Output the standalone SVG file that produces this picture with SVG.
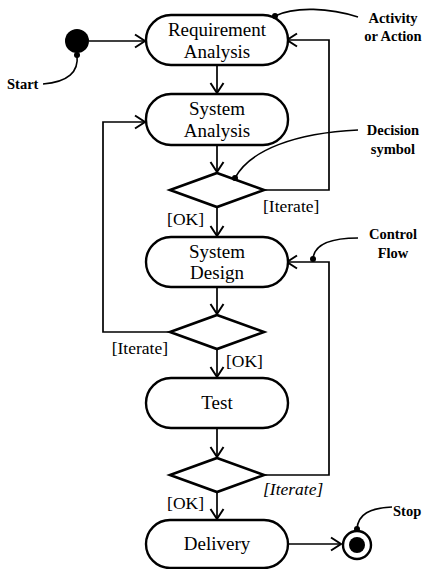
<svg xmlns="http://www.w3.org/2000/svg" width="428" height="569" viewBox="0 0 428 569">
  <style>
    .node { fill: #fff; stroke: #000; stroke-width: 2.4; }
    .diamond { fill: #fff; stroke: #000; stroke-width: 2.6; stroke-linejoin: miter; }
    .flow { fill: none; stroke: #000; stroke-width: 1.7; }
    .note { fill: none; stroke: #000; stroke-width: 1.6; }
    .label { font-family: "Liberation Serif", "Times New Roman", serif; font-size: 19px; fill: #000; text-anchor: middle; }
    .guard { font-family: "Liberation Serif", "Times New Roman", serif; font-size: 17.5px; fill: #000; }
    .ann { font-family: "Liberation Serif", "Times New Roman", serif; font-size: 14.5px; font-weight: bold; fill: #000; }
  </style>
  <defs>
    <marker id="arrow" viewBox="-11 -8 13 16" markerWidth="13" markerHeight="16" refX="0" refY="0" orient="auto" markerUnits="userSpaceOnUse">
      <path d="M-10,-6.5 L0,0 L-10,6.5" fill="none" stroke="#000" stroke-width="2"/>
    </marker>
  </defs>

  <rect width="428" height="569" fill="#fff"/>

  <!-- connectors -->
  <g id="connectors">
    <path class="flow" d="M89,41 H145" marker-end="url(#arrow)"/>
    <path class="flow" d="M217,65 V93" marker-end="url(#arrow)"/>
    <path class="flow" d="M217,145 V172" marker-end="url(#arrow)"/>
    <path class="flow" d="M217,207 V236" marker-end="url(#arrow)"/>
    <path class="flow" d="M217,287 V314" marker-end="url(#arrow)"/>
    <path class="flow" d="M217,349 V377" marker-end="url(#arrow)"/>
    <path class="flow" d="M217,428 V457" marker-end="url(#arrow)"/>
    <path class="flow" d="M217,492 V519" marker-end="url(#arrow)"/>
    <path class="flow" d="M264,190 H329 V40 H287" marker-end="url(#arrow)"/>
    <path class="flow" d="M170,332 H103 V122 H145" marker-end="url(#arrow)"/>
    <path class="flow" d="M264,475 H329 V262 H287" marker-end="url(#arrow)"/>
    <path class="flow" d="M288,544 H341" marker-end="url(#arrow)"/>
  </g>

  <!-- initial node -->
  <g id="start">
    <circle cx="77" cy="41" r="12" fill="#000"/>
  </g>

  <!-- actions -->
  <g id="requirement-analysis">
    <rect class="node" x="146" y="15" width="142" height="50" rx="25"/>
    <text class="label" x="217" y="36">Requirement</text>
    <text class="label" x="217" y="58">Analysis</text>
  </g>
  <g id="system-analysis">
    <rect class="node" x="146" y="94" width="142" height="51" rx="25"/>
    <text class="label" x="217" y="115">System</text>
    <text class="label" x="217" y="137">Analysis</text>
  </g>
  <g id="decision-1">
    <polygon class="diamond" points="217,173 264,190 217,207 170,190"/>
  </g>
  <g id="system-design">
    <rect class="node" x="146" y="237" width="142" height="50" rx="25"/>
    <text class="label" x="217" y="258">System</text>
    <text class="label" x="217" y="279">Design</text>
  </g>
  <g id="decision-2">
    <polygon class="diamond" points="217,315 264,332 217,349 170,332"/>
  </g>
  <g id="test">
    <rect class="node" x="146" y="378" width="142" height="50" rx="25"/>
    <text class="label" x="217" y="409">Test</text>
  </g>
  <g id="decision-3">
    <polygon class="diamond" points="217,458 264,475 217,492 170,475"/>
  </g>
  <g id="delivery">
    <rect class="node" x="146" y="520" width="142" height="48" rx="24"/>
    <text class="label" x="217" y="550">Delivery</text>
  </g>

  <!-- final node -->
  <g id="stop">
    <circle cx="357" cy="545" r="14" fill="#fff" stroke="#000" stroke-width="2.4"/>
    <circle cx="357" cy="545" r="8" fill="#000"/>
  </g>

  <!-- guard labels -->
  <g id="guards">
    <text class="guard" x="204" y="225" text-anchor="end">[OK]</text>
    <text class="guard" x="263" y="212">[Iterate]</text>
    <text class="guard" x="168" y="354" text-anchor="end">[Iterate]</text>
    <text class="guard" x="226" y="367">[OK]</text>
    <text class="guard" x="204" y="509" text-anchor="end">[OK]</text>
    <text class="guard" x="263" y="495" font-style="italic">[Iterate]</text>
  </g>

  <!-- callouts -->
  <g id="callouts">
    <path class="note" d="M77,55 C79,72 68,82 43,84"/>
    <circle cx="77" cy="55" r="3"/>
    <text class="ann" x="7" y="89">Start</text>

    <path class="note" d="M275,16 C295,6 330,8 358,17"/>
    <circle cx="275" cy="16" r="3"/>
    <text class="ann" x="393" y="23" text-anchor="middle">Activity</text>
    <text class="ann" x="393" y="41" text-anchor="middle">or Action</text>

    <path class="note" d="M235,178 C250,150 295,133 358,130"/>
    <circle cx="235" cy="178" r="3"/>
    <text class="ann" x="393" y="135" text-anchor="middle">Decision</text>
    <text class="ann" x="393" y="154" text-anchor="middle">symbol</text>

    <path class="note" d="M313,259 C314,245 330,238 358,238"/>
    <circle cx="313" cy="259" r="3"/>
    <text class="ann" x="393" y="239" text-anchor="middle">Control</text>
    <text class="ann" x="393" y="258" text-anchor="middle">Flow</text>

    <path class="note" d="M357,529 C358,514 370,508 392,507"/>
    <circle cx="357" cy="529" r="3"/>
    <text class="ann" x="393" y="516">Stop</text>
  </g>
</svg>
